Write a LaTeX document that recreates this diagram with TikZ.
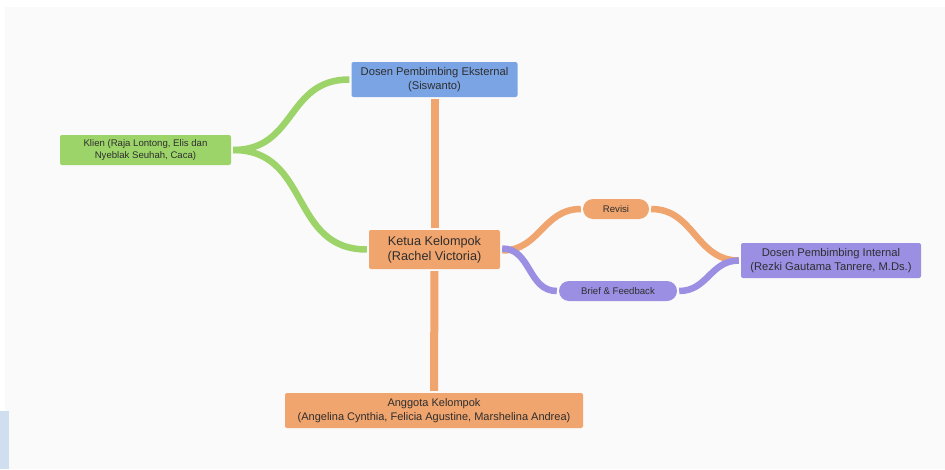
\documentclass[tikz,border=0pt]{standalone}
\usepackage{fontspec}
\setmainfont{Liberation Sans}
\usepackage{tikz}
\usetikzlibrary{arrows.meta}
\definecolor{bggray}{HTML}{FAFAFA}
\definecolor{sidebar}{HTML}{CFDFEF}
\definecolor{txtgray}{HTML}{2E2E2E}
\definecolor{mmblue}{HTML}{7BA4E4}
\definecolor{mmgreen}{HTML}{9DD46A}
\definecolor{mmorange}{HTML}{F0A46E}
\definecolor{mmpurple}{HTML}{9B8FE3}
\tikzset{
  topic/.style={rounded corners=2pt, inner sep=0pt, align=center, text=txtgray},
  pill/.style={rounded corners=10pt, inner sep=0pt, align=center, text=txtgray,
    minimum height=20pt, font=\fontsize{9.6}{12}\selectfont},
  branch/.style={line width=6.5pt, shorten <=2pt, shorten >=2pt}
}

\begin{document}
\begin{tikzpicture}[x=1pt,y=-1pt]

  \useasboundingbox (0,0) rectangle (945,469);
  \fill[white] (0,0) rectangle (945,469);
  \fill[bggray] (5,7) rectangle (945,469);
  \fill[sidebar] (0,411) rectangle (9,469);

  \node[topic, fill=mmblue, minimum width=166pt, minimum height=35pt,
    font=\fontsize{11.2}{14}\selectfont] (eks) at (434.5,79.5)
    {Dosen Pembimbing Eksternal\\(Siswanto)};
  \node[topic, fill=mmgreen, minimum width=171pt, minimum height=30pt,
    font=\fontsize{9.6}{12}\selectfont] (klien) at (145.5,150)
    {Klien (Raja Lontong, Elis dan\\Nyeblak Seuhah, Caca)};
  \node[topic, fill=mmorange, minimum width=131pt, minimum height=39pt,
    font=\fontsize{12.7}{15}\selectfont] (ketua) at (434.5,249.5)
    {Ketua Kelompok\\(Rachel Victoria)};
  \node[pill, fill=mmorange, minimum width=66pt] (revisi) at (616,209) {Revisi};
  \node[pill, fill=mmpurple, minimum width=118pt] (brief) at (618,291) {Brief \& Feedback};
  \node[topic, fill=mmpurple, minimum width=180pt, minimum height=35pt,
    font=\fontsize{11.2}{14}\selectfont] (internal) at (831,260.5)
    {Dosen Pembimbing Internal\\(Rezki Gautama Tanrere, M.Ds.)};
  \node[topic, fill=mmorange, minimum width=298pt, minimum height=35pt,
    font=\fontsize{11}{13.5}\selectfont] (anggota) at (434,410.5)
    {Anggota Kelompok\\(Angelina Cynthia, Felicia Agustine, Marshelina Andrea)};

  \draw[branch, mmgreen] (klien.east) to[out=0, in=180, looseness=1.2] (eks.west); %% klien->eks
  \draw[branch, mmgreen] (klien.east) to[out=0, in=180, looseness=1.2] (ketua.west); %% klien->ketua
  \draw[branch, mmorange, line width=8pt] (eks.south) -- (ketua.north); %% eks->ketua
  \draw[branch, mmorange, line width=8pt] (ketua.south) -- (anggota.north); %% ketua->anggota

  \draw[branch, mmorange] ([yshift=-1pt]ketua.east) to[out=0, in=180, looseness=1.1] (revisi.west); %% ketua->revisi
  \draw[branch, mmorange] (revisi.east) to[out=0, in=180, looseness=1.1] (internal.west); %% revisi->internal
  \draw[branch, mmpurple] ([yshift=1pt]ketua.east) to[out=0, in=180, looseness=1.1] (brief.west); %% ketua->brief
  \draw[branch, mmpurple] (brief.east) to[out=0, in=180, looseness=1.1] (internal.west); %% brief->internal

\end{tikzpicture}
\end{document}
